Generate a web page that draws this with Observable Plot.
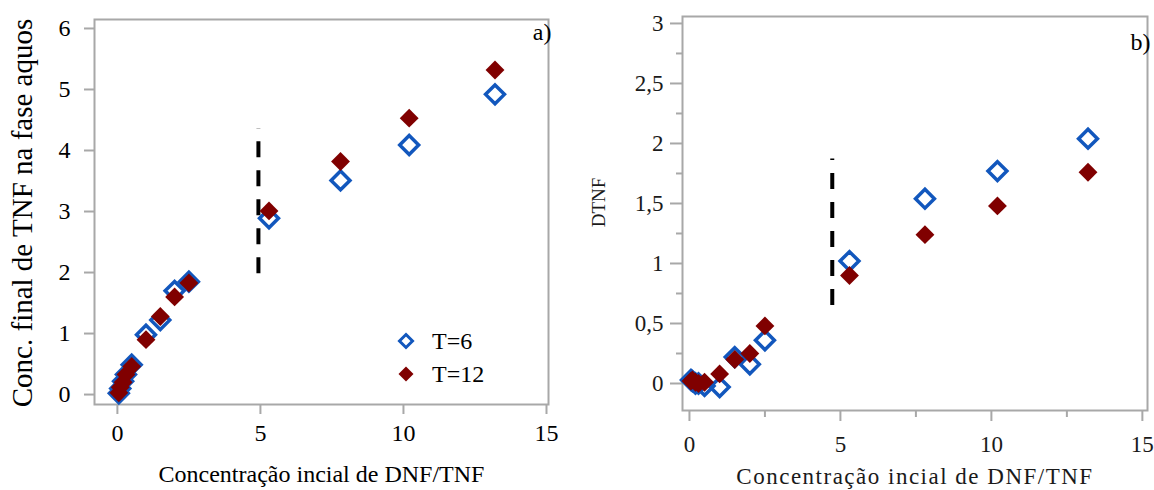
<!DOCTYPE html>
<html><head><meta charset="utf-8">
<script src="https://cdn.jsdelivr.net/npm/d3@7"></script>
<script src="https://cdn.jsdelivr.net/npm/@observablehq/plot@0.6"></script>
<style>
body{margin:0;background:#fff;}
#wrap{position:relative;width:1154px;height:490px;overflow:hidden;font-family:"Liberation Serif","Times New Roman",serif;}
#wrap > svg{position:absolute;top:0;}
#wrap svg text{font-family:"Liberation Serif","Times New Roman",serif;}
.leg{position:absolute;font-family:"Liberation Serif","Times New Roman",serif;font-size:24px;line-height:24px;color:#000;white-space:nowrap;}
.leg svg{position:absolute;}
</style></head><body><div id="wrap"></div>
<script>
// ---- data ----
const concInicial = [0.05, 0.1, 0.2, 0.3, 0.5, 1.0, 1.5, 2.0, 2.5, 5.3, 7.8, 10.2, 13.2];
const tnfFinalT6  = [0.02, 0.10, 0.22, 0.33, 0.49, 0.98, 1.22, 1.70, 1.85, 2.89, 3.51, 4.09, 4.92];
const tnfFinalT12 = [0.03, 0.12, 0.20, 0.33, 0.46, 0.90, 1.28, 1.60, 1.83, 3.01, 3.82, 4.53, 5.32];
const dtnfT6  = [0.03, 0.02, 0.00, 0.00, -0.02, -0.03, 0.22, 0.16, 0.36, 1.02, 1.54, 1.77, 2.04];
const dtnfT12 = [0.02, 0.03, 0.01, 0.00, 0.01, 0.08, 0.20, 0.25, 0.48, 0.90, 1.24, 1.48, 1.76];
const seriesNames = ["T=6", "T=12"];
const ticksAx = [0, 5, 10, 15];
const ticksAy = [0, 1, 2, 3, 4, 5, 6];
const ticksBxMajor = [0, 5, 10, 15];
const ticksBxMinor = [2.5, 7.5, 12.5];
const ticksByMajor = [0, 0.5, 1, 1.5, 2, 2.5, 3];
const ticksByMinor = [0.25, 0.75, 1.25, 1.75, 2.25, 2.75];
const divisaoA = [{x: 4.93, y1: 1.98, y2: 4.36}];
const divisaoB = [{x: 4.73, y1: 0.65, y2: 1.87}];
const xTitle = "Concentração incial de DNF/TNF";
const yTitleA = "Conc. final de TNF na fase aquos";
const yTitleB = "DTNF";

const BLUE = "#1257bd", RED = "#800000", GRID = "#a8a8a8";
const FONT = "Liberation Serif";

const rowsA6 = concInicial.map((x, i) => ({x, y: tnfFinalT6[i]}));
const rowsA12 = concInicial.map((x, i) => ({x, y: tnfFinalT12[i]}));
const rowsB6 = concInicial.map((x, i) => ({x, y: dtnfT6[i]}));
const rowsB12 = concInicial.map((x, i) => ({x, y: dtnfT12[i]}));

const wrap = document.getElementById("wrap");

const plotA = Plot.plot({
  width: 578, height: 490,
  marginLeft: 94, marginRight: 30, marginTop: 19, marginBottom: 86,
  x: {domain: [-0.8, 15.07]},
  y: {domain: [-0.163, 6.147]},
  style: {fontFamily: FONT, fontSize: "24px", color: "#000", background: "transparent", overflow: "visible"},
  marks: [
    Plot.frame({stroke: GRID, strokeWidth: 2}),
    Plot.axisX(ticksAx, {tickSize: 10, tickPadding: 9, stroke: GRID, strokeWidth: 2, fill: "#000", fontSize: 24, fontFamily: FONT, label: null, tickFormat: d => String(d)}),
    Plot.axisY(ticksAy, {tickSize: 10, tickPadding: 14, stroke: GRID, strokeWidth: 2, fill: "#000", fontSize: 24, fontFamily: FONT, label: null, tickFormat: d => String(d)}),
    Plot.ruleX(divisaoA, {x: "x", y1: "y1", y2: "y2", stroke: "#000", strokeWidth: 4, strokeDasharray: "16,13"}),
    Plot.dot(rowsA6, {x: "x", y: "y", symbol: "diamond2", r: 8.5, fill: "none", stroke: BLUE, strokeWidth: 3.5}),
    Plot.dot(rowsA12, {x: "x", y: "y", symbol: "diamond2", r: 8.5, fill: RED}),
    Plot.text(["a)"], {text: d => d, frameAnchor: "top-right", textAnchor: "end", lineAnchor: "middle", dx: 3, dy: 13, fontSize: 24, fontFamily: FONT}),
    Plot.text([xTitle], {text: d => d, frameAnchor: "bottom", textAnchor: "middle", lineAnchor: "middle", dy: 70, fontSize: 24, fontFamily: FONT}),
    Plot.text([yTitleA], {text: d => d, frameAnchor: "left", textAnchor: "middle", rotate: -90, lineAnchor: "middle", dx: -72, dy: 1, fontSize: 29, fontFamily: FONT})
  ]
});
plotA.style.left = "0px";
wrap.appendChild(plotA);

const plotB = Plot.plot({
  width: 576, height: 490,
  marginLeft: 104, marginRight: 7, marginTop: 16, marginBottom: 80,
  x: {domain: [-0.23, 15.17]},
  y: {domain: [-0.225, 3.058]},
  style: {fontFamily: FONT, fontSize: "23px", color: "#1a1a1a", background: "transparent", overflow: "visible"},
  marks: [
    Plot.frame({stroke: GRID, strokeWidth: 2}),
    Plot.axisX(ticksBxMinor, {tickSize: 7, stroke: GRID, strokeWidth: 2, tickFormat: () => "", label: null}),
    Plot.axisX(ticksBxMajor, {tickSize: 11, tickPadding: 14, stroke: GRID, strokeWidth: 2, fill: "#1a1a1a", fontSize: 23, fontFamily: FONT, label: null, tickFormat: d => String(d)}),
    Plot.axisY(ticksByMinor, {tickSize: 6, stroke: GRID, strokeWidth: 2, tickFormat: () => "", label: null}),
    Plot.axisY(ticksByMajor, {tickSize: 12, tickPadding: 7, stroke: GRID, strokeWidth: 2, fill: "#1a1a1a", fontSize: 23, fontFamily: FONT, label: null,
      tickFormat: d => String(d).replace(".", ",")}),
    Plot.ruleX(divisaoB, {x: "x", y1: "y1", y2: "y2", stroke: "#000", strokeWidth: 4, strokeDasharray: "16,13"}),
    Plot.dot(rowsB6, {x: "x", y: "y", symbol: "diamond2", r: 8.5, fill: "none", stroke: BLUE, strokeWidth: 3.5}),
    Plot.dot(rowsB12, {x: "x", y: "y", symbol: "diamond2", r: 8.5, fill: RED}),
    Plot.text(["b)"], {text: d => d, frameAnchor: "top-right", textAnchor: "end", lineAnchor: "middle", dx: 3, dy: 26, fontSize: 24, fill: "#000", fontFamily: FONT}),
    Plot.text([xTitle], {text: d => d, frameAnchor: "bottom", textAnchor: "middle", lineAnchor: "middle", dy: 66, fontSize: 23, fontFamily: FONT}),
    Plot.text([yTitleB], {text: d => d, frameAnchor: "left", textAnchor: "middle", rotate: -90, lineAnchor: "middle", dx: -84, dy: -11, fontSize: 19, fontFamily: FONT})
  ]
});
plotB.style.left = "578px";
d3.select(plotB).selectAll("text").filter(function() { return this.textContent === xTitle; })
  .style("letter-spacing", "1.5px");
wrap.appendChild(plotB);

// ---- legend (panel a) ----
const legendItems = [
  {name: seriesNames[0], top: 329, open: true},
  {name: seriesNames[1], top: 362, open: false}
];
legendItems.forEach(it => {
  const div = document.createElement("div");
  div.className = "leg";
  div.style.left = "396px";
  div.style.top = it.top + "px";
  div.innerHTML = `<svg width="20" height="20" style="left:0;top:2px">` +
    (it.open
      ? `<path d="M10,3.5L16.5,10L10,16.5L3.5,10Z" fill="none" stroke="${BLUE}" stroke-width="3"/>`
      : `<path d="M10,2.5L17.5,10L10,17.5L2.5,10Z" fill="${RED}"/>`) +
    `</svg><span style="position:absolute;left:36px;top:0">${it.name}</span>`;
  wrap.appendChild(div);
});
</script></body></html>
